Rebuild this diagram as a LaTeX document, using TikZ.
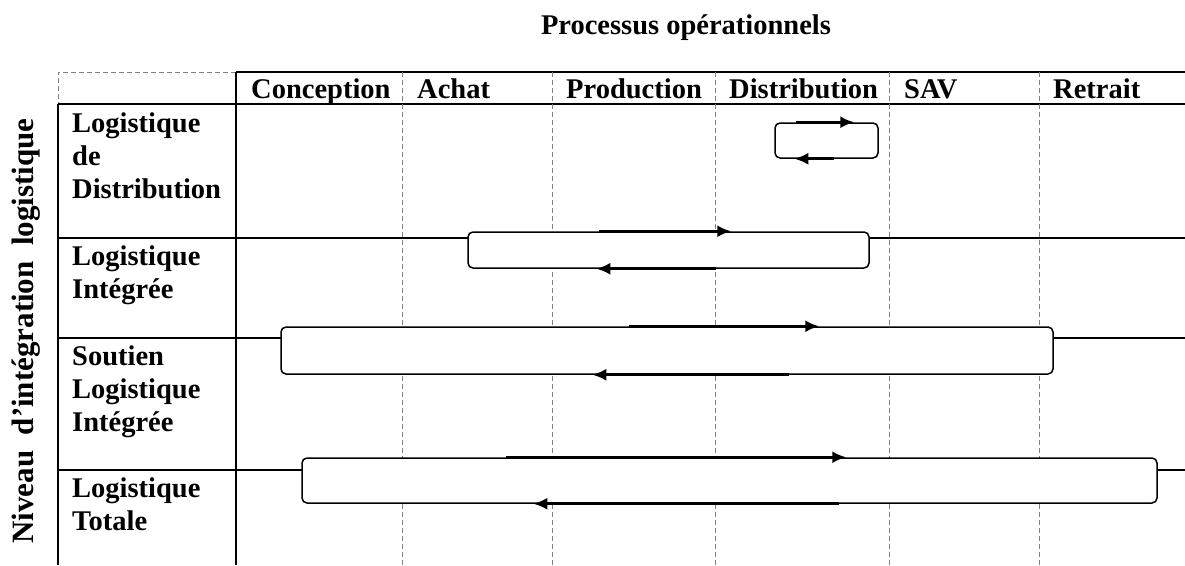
\documentclass[tikz,border=0pt]{standalone}
\usepackage{fontspec}
\setmainfont{Liberation Serif}
\usetikzlibrary{shapes,arrows.meta,calc}
\tikzstyle{block} = [rectangle, draw, fill=white, rounded corners=5pt,
    line width=1.5pt, inner sep=0pt]
\tikzstyle{line} = [draw, line width=2.6pt, -{Latex[length=14pt,width=12pt]}]
\tikzstyle{rule} = [draw, line width=1.5pt]
\tikzstyle{sep} = [draw, gray, line width=0.8pt, dash pattern=on 5pt off 3pt]
\tikzstyle{head} = [font=\bfseries\fontsize{28.5}{33}\selectfont,
    anchor=base west, inner sep=0pt]
\tikzstyle{level} = [font=\bfseries\fontsize{28.5}{33}\selectfont,
    anchor=north west, align=left, inner sep=0pt]

\begin{document}
\begin{tikzpicture}[x=1pt, y=-1pt]
  \useasboundingbox (0,0) rectangle (1185,565);
  % titles
  \node [head, anchor=base] (title) at (686,34) {Processus opérationnels};
  \node [head, anchor=base, rotate=90, font=\bfseries\fontsize{31}{36}\selectfont]
    (axis) at (33,331) {Niveau~~d'intégration~~logistique};
  % table
  \draw [sep] (236,72) -- (58,72) -- (58,104);
  \draw [rule] (236,72) -- (1185,72);
  \draw [rule] (58,104) -- (1185,104);
  \draw [rule] (58,104) -- (58,565);
  \draw [rule] (236,72) -- (236,565);
  \foreach \y in {238,338,470}
    \draw [rule] (58,\y) -- (1185,\y);
  \foreach \x in {402,552,715,889,1039}
    \draw [sep] (\x,72) -- (\x,565);
  % column heads
  \node [head] (conception) at (251,98) {Conception};
  \node [head] (achat) at (417,98) {Achat};
  \node [head] (production) at (566,98) {Production};
  \node [head] (distribution) at (729,98) {Distribution};
  \node [head] (sav) at (904,98) {SAV};
  \node [head] (retrait) at (1053,98) {Retrait};
  % row heads
  \node [level] (ldist) at (72,113) {Logistique\\de\\Distribution};
  \node [level] (linteg) at (72,246) {Logistique\\Intégrée};
  \node [level] (sli) at (72,346) {Soutien\\Logistique\\Intégrée};
  \node [level] (ltot) at (72,478) {Logistique\\Totale};
  % loops
  \node [block, minimum width=103pt, minimum height=35pt] (b1) at (826.5,140.5) {};
  \node [block, minimum width=401pt, minimum height=36pt] (b2) at (668.5,250) {};
  \node [block, minimum width=772pt, minimum height=47pt] (b3) at (667,350.5) {};
  \node [block, minimum width=855pt, minimum height=45pt] (b4) at (729.5,480.5) {};
  \coordinate (b1a) at ($(b1.north west)+(22,0)$);
  \coordinate (b1b) at ($(b1.north west)+(80,0)$);
  \coordinate (b1c) at ($(b1.south west)+(60,0)$);
  \coordinate (b1d) at ($(b1.south west)+(20,0)$);
  \path [line] (b1a) -- (b1b);
  \path [line] (b1c) -- (b1d);
  \coordinate (b2a) at ($(b2.north west)+(132,0)$);
  \coordinate (b2b) at ($(b2.north west)+(264,0)$);
  \coordinate (b2c) at ($(b2.south west)+(249,0)$);
  \coordinate (b2d) at ($(b2.south west)+(129,0)$);
  \path [line] (b2a) -- (b2b);
  \path [line] (b2c) -- (b2d);
  \coordinate (b3a) at ($(b3.north west)+(349,0)$);
  \coordinate (b3b) at ($(b3.north west)+(539,0)$);
  \coordinate (b3c) at ($(b3.south west)+(509,0)$);
  \coordinate (b3d) at ($(b3.south west)+(312,0)$);
  \path [line] (b3a) -- (b3b);
  \path [line] (b3c) -- (b3d);
  \coordinate (b4a) at ($(b4.north west)+(205,0)$);
  \coordinate (b4b) at ($(b4.north west)+(545,0)$);
  \coordinate (b4c) at ($(b4.south west)+(538,0)$);
  \coordinate (b4d) at ($(b4.south west)+(232,0)$);
  \path [line] (b4a) -- (b4b);
  \path [line] (b4c) -- (b4d);
\end{tikzpicture}
\end{document}
